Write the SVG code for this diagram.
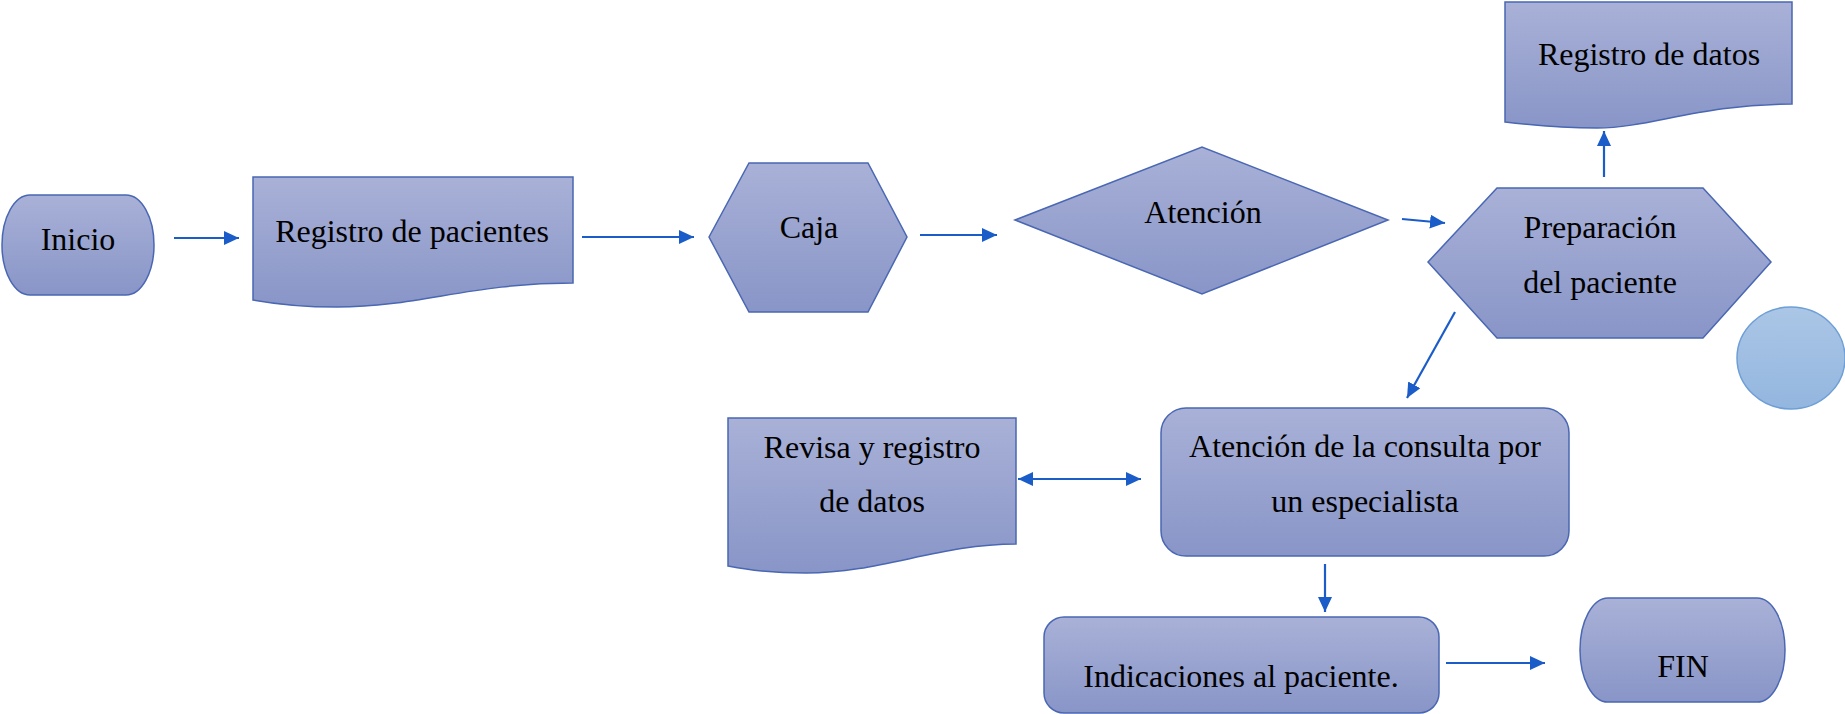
<svg xmlns="http://www.w3.org/2000/svg" width="1845" height="714" viewBox="0 0 1845 714">
<style>
.n{fill:url(#g);stroke:#4a67b3;stroke-width:1.5}
.c{fill:url(#gc);stroke:#6d9fd6;stroke-width:1.5}
.t{font-family:"Liberation Serif","Times New Roman",serif;font-size:32px;fill:#000;text-anchor:middle}
.e{stroke:#1a5cc8;stroke-width:2.2;fill:none;marker-end:url(#ah)}
</style>
<defs>
<linearGradient id="g" x1="0" y1="0" x2="0" y2="1">
<stop offset="0" stop-color="#a9b1d7"/>
<stop offset="1" stop-color="#8895c7"/>
</linearGradient>
<linearGradient id="gc" x1="0" y1="0" x2="0" y2="1">
<stop offset="0" stop-color="#abc6e6"/>
<stop offset="1" stop-color="#93b6df"/>
</linearGradient>
<marker id="ah" markerUnits="userSpaceOnUse" markerWidth="16" markerHeight="14" refX="15" refY="7" orient="auto-start-reverse">
<path d="M0,0 L15,7 L0,14 Z" fill="#1a5cc8"/>
</marker>
</defs>
<rect width="1845" height="714" fill="#fff"/>
<g id="inicio">
<path class="n" d="M30,195 H126 A28,50 0 0 1 126,295 H30 A28,50 0 0 1 30,195 Z"/>
<text class="t" x="78" y="250">Inicio</text>
</g>
<g id="registro-pacientes">
<path class="n" d="M253,177 H573 V283 C470,283 420,307 337,307 C300,307 275,304 253,300 Z"/>
<text class="t" x="412" y="242">Registro de pacientes</text>
</g>
<g id="caja">
<path class="n" d="M709,237 L749,163 L868,163 L907,237 L868,312 L749,312 Z"/>
<text class="t" x="809" y="238">Caja</text>
</g>
<g id="atencion">
<path class="n" d="M1015,220 L1202,147 L1388,220 L1202,294 Z"/>
<text class="t" x="1203" y="223">Atención</text>
</g>
<g id="preparacion">
<path class="n" d="M1428,262 L1497,188 L1703,188 L1771,262 L1703,338 L1497,338 Z"/>
<text class="t" x="1600" y="238">Preparación</text>
<text class="t" x="1600" y="293">del paciente</text>
</g>
<g id="registro-datos">
<path class="n" d="M1505,2 H1792 V104 C1700,104 1650,128 1597,128 C1560,128 1530,125 1505,122 Z"/>
<text class="t" x="1649" y="65">Registro de datos</text>
</g>
<g id="circulo">
<ellipse class="c" cx="1791" cy="358" rx="54" ry="51"/>
</g>
<g id="revisa">
<path class="n" d="M728,418 H1016 V544 C940,544 880,573 806,573 C770,573 750,570 728,566 Z"/>
<text class="t" x="872" y="458">Revisa y registro</text>
<text class="t" x="872" y="512">de datos</text>
</g>
<g id="consulta">
<rect class="n" x="1161" y="408" width="408" height="148" rx="25"/>
<text class="t" x="1365" y="457">Atención de la consulta por</text>
<text class="t" x="1365" y="512">un especialista</text>
</g>
<g id="indicaciones">
<rect class="n" x="1044" y="617" width="395" height="96" rx="20"/>
<text class="t" x="1241" y="687">Indicaciones al paciente.</text>
</g>
<g id="fin">
<path class="n" d="M1608,598 H1757 A28,52 0 0 1 1757,702 H1608 A28,52 0 0 1 1608,598 Z"/>
<text class="t" x="1683" y="677">FIN</text>
</g>
<g id="connectors">
<line class="e" x1="174" y1="238" x2="239" y2="238"/>
<line class="e" x1="582" y1="237" x2="694" y2="237"/>
<line class="e" x1="920" y1="235" x2="997" y2="235"/>
<line class="e" x1="1402" y1="219" x2="1445" y2="223"/>
<line class="e" x1="1604" y1="177" x2="1604" y2="131"/>
<line class="e" x1="1455" y1="312" x2="1407" y2="398"/>
<line class="e" x1="1018" y1="479" x2="1141" y2="479" marker-start="url(#ah)"/>
<line class="e" x1="1325" y1="564" x2="1325" y2="612"/>
<line class="e" x1="1446" y1="663" x2="1545" y2="663"/>
</g>
</svg>
